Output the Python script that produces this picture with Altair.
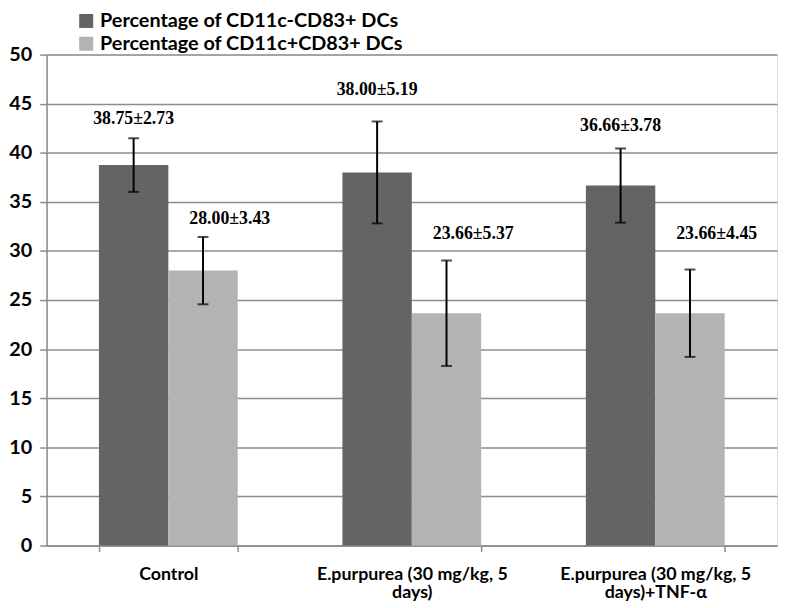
import altair as alt
import pandas as pd

groups = ["Control", "E.purpurea (30 mg/kg, 5\ndays)", "E.purpurea (30 mg/kg, 5\ndays)+TNF-α"]
series = ["Percentage of CD11c-CD83+ DCs", "Percentage of CD11c+CD83+ DCs"]
dark_values = [38.75, 38.00, 36.66]
dark_errors = [2.73, 5.19, 3.78]
light_values = [28.00, 23.66, 23.66]
light_errors = [3.43, 5.37, 4.45]
dark_label_y = [43.45, 46.37, 42.74]
light_label_y = [33.27, 31.75, 31.75]
y_ticks = [0, 5, 10, 15, 20, 25, 30, 35, 40, 45, 50]

DARK = "#646464"
LIGHT = "#b3b3b3"
GRID = "#8c8c8c"

rows = []
for s, vals, errs, ly in [
    (series[0], dark_values, dark_errors, dark_label_y),
    (series[1], light_values, light_errors, light_label_y),
]:
    for g, v, e, y in zip(groups, vals, errs, ly):
        rows.append({
            "group": g, "series": s, "value": v, "err": e,
            "lo": v - e, "hi": v + e, "label_y": y,
            "label": f"{v:.2f}±{e:.2f}",
        })
df = pd.DataFrame(rows)

x_enc = alt.X(
    "group:N", sort=groups, title=None,
    scale=alt.Scale(paddingInner=0.43, paddingOuter=0.215),
    axis=alt.Axis(
        labelAngle=0, tickBand="extent", domainColor=GRID, tickColor=GRID,
        tickSize=6, domainWidth=1.5, tickWidth=1.5,
        labelFont="Lato", labelFontWeight="bold", labelFontSize=18,
        labelLineHeight=19, labelPadding=14, labelColor="black",
        labelLimit=0, labelExpr="split(datum.label, '\\n')", grid=False,
    ),
)
xo_enc = alt.XOffset("series:N", sort=series,
                     scale=alt.Scale(paddingInner=0, paddingOuter=0))

base = alt.Chart(df).encode(x=x_enc, xOffset=xo_enc)

bars = base.mark_bar().encode(
    y=alt.Y(
        "value:Q", title=None,
        scale=alt.Scale(domain=[0, 50], nice=False),
        axis=alt.Axis(
            values=y_ticks, grid=True, gridColor=GRID, gridWidth=1.5,
            domainColor=GRID, domainWidth=1.5, tickColor=GRID, tickWidth=1.5,
            tickSize=7, labelFont="Lato", labelFontWeight="bold",
            labelFontSize=20, labelPadding=8, labelColor="black",
        ),
    ),
    color=alt.Color(
        "series:N", sort=series,
        scale=alt.Scale(domain=series, range=[DARK, LIGHT]),
        legend=alt.Legend(
            title=None, orient="none", legendX=30, legendY=-44,
            symbolType="square", symbolSize=200, symbolStrokeWidth=0,
            symbolOpacity=1, labelFont="Lato", labelFontWeight="bold",
            labelFontSize=20, labelColor="black", rowPadding=3,
            labelOffset=4, padding=0, labelLimit=0,
        ),
    ),
)

rules = base.mark_rule(color="black", strokeWidth=2).encode(
    y="lo:Q", y2="hi:Q"
)
caps_hi = base.mark_tick(color="black", thickness=2, size=11).encode(y="hi:Q")
caps_lo = base.mark_tick(color="black", thickness=2, size=11).encode(y="lo:Q")

text_dark = base.mark_text(
    font="Liberation Serif", fontWeight="bold", fontSize=18, color="black"
).encode(y="label_y:Q", text="label:N").transform_filter(
    alt.datum.series == series[0]
)
text_light = base.mark_text(
    font="Liberation Serif", fontWeight="bold", fontSize=18, color="black", dx=27
).encode(y="label_y:Q", text="label:N").transform_filter(
    alt.datum.series == series[1]
)

chart = alt.layer(bars, rules, caps_hi, caps_lo, text_dark, text_light).properties(
    width=738, height=496, autosize="none",
    padding={"left": 39, "top": 44, "right": 2, "bottom": 56},
).configure_view(stroke=None).configure(background="white")

chart.save("out.html", embed_options={"renderer": "svg", "actions": False})
